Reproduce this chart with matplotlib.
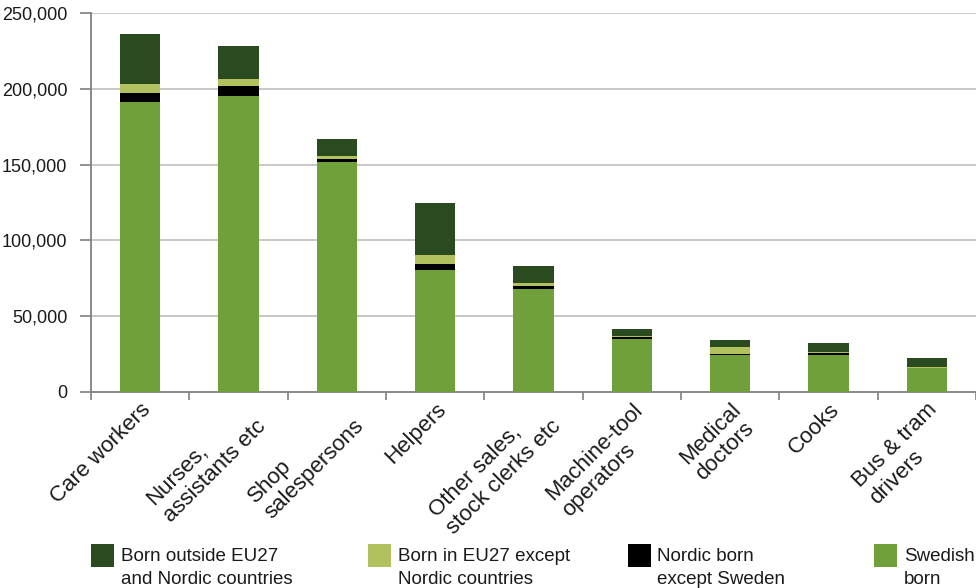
import matplotlib
matplotlib.use("Agg")
import matplotlib.pyplot as plt
from matplotlib.patches import Rectangle
import numpy as np

plt.rcParams['font.family'] = ['Liberation Sans', 'DejaVu Sans']

# Occupations and employees by country of birth
categories = [
    "Care workers",
    "Nurses,\nassistants etc",
    "Shop\nsalespersons",
    "Helpers",
    "Other sales,\nstock clerks etc",
    "Machine-tool\noperators",
    "Medical\ndoctors",
    "Cooks",
    "Bus & tram\ndrivers",
]
swedish_born = [191000, 195000, 151600, 80400, 67900, 35000, 24400, 24600, 15800]
nordic_born = [6000, 7000, 1900, 3900, 2000, 1300, 800, 1300, 200]
eu27_born = [6000, 4600, 2000, 6000, 1900, 700, 4500, 500, 600]
outside_born = [33000, 21800, 11200, 34300, 11200, 4500, 4600, 5900, 5900]

series_labels = [
    "Born outside EU27\nand Nordic countries",
    "Born in EU27 except\nNordic countries",
    "Nordic born\nexcept Sweden",
    "Swedish\nborn",
]
colors = {
    "swedish": "#70A03A",
    "nordic": "#000000",
    "eu27": "#B1C15E",
    "outside": "#2A4B20",
}

fig = plt.figure(figsize=(9.76, 5.88), dpi=100)
ax = fig.add_axes([91 / 976, 1 - 392 / 588, 1 - 91 / 976, (392 - 13) / 588])

x = np.arange(len(categories))
w = 0.41
s = np.array(swedish_born)
n = np.array(nordic_born)
e = np.array(eu27_born)
o = np.array(outside_born)

ax.bar(x, s, w, color=colors["swedish"], zorder=3)
ax.bar(x, n, w, bottom=s, color=colors["nordic"], zorder=3)
ax.bar(x, e, w, bottom=s + n, color=colors["eu27"], zorder=3)
ax.bar(x, o, w, bottom=s + n + e, color=colors["outside"], zorder=3)

ax.set_xlim(-0.5, len(categories) - 0.5)
ax.set_ylim(0, 250000)
yt = np.arange(0, 250001, 50000)
ax.set_yticks(yt)
ax.set_yticklabels([f"{v:,}" for v in yt], fontsize=13, color="#1a1a1a")
for v in yt[1:]:
    ax.axhline(v, color="#C3C3C3", lw=1.3, zorder=1)

ax.set_xticks(x)
ax.set_xticklabels(categories, rotation=45, ha="right", va="top",
                   rotation_mode="anchor", fontsize=16, color="#1a1a1a",
                   multialignment="left", linespacing=1.15)
ax.set_xticks(np.arange(-0.5, len(categories)), minor=True)
ax.tick_params(axis="x", which="major", length=0, pad=5)
ax.tick_params(axis="x", which="minor", length=6, color="#808080", width=1.2)
ax.tick_params(axis="y", length=8, color="#808080", width=1.2, pad=9)

for side in ("top", "right"):
    ax.spines[side].set_visible(False)
for side in ("left", "bottom"):
    ax.spines[side].set_color("#808080")
    ax.spines[side].set_linewidth(1.3)

# Legend row below the chart; text baselines set on the second line
legend_items = [
    (series_labels[0], colors["outside"], 91, 121),
    (series_labels[1], colors["eu27"], 368, 398),
    (series_labels[2], colors["nordic"], 628, 657),
    (series_labels[3], colors["swedish"], 874, 904),
]
for label, col, px, tx in legend_items:
    fig.add_artist(Rectangle((px / 976, 1 - 567 / 588), 23 / 976, 23 / 588,
                             transform=fig.transFigure, facecolor=col,
                             edgecolor="none"))
    fig.text(tx / 976, 1 - 584 / 588, label, fontsize=13.5, va="baseline",
             ha="left", linespacing=1.45, color="#1a1a1a")

fig.savefig("out.png", dpi=100)
